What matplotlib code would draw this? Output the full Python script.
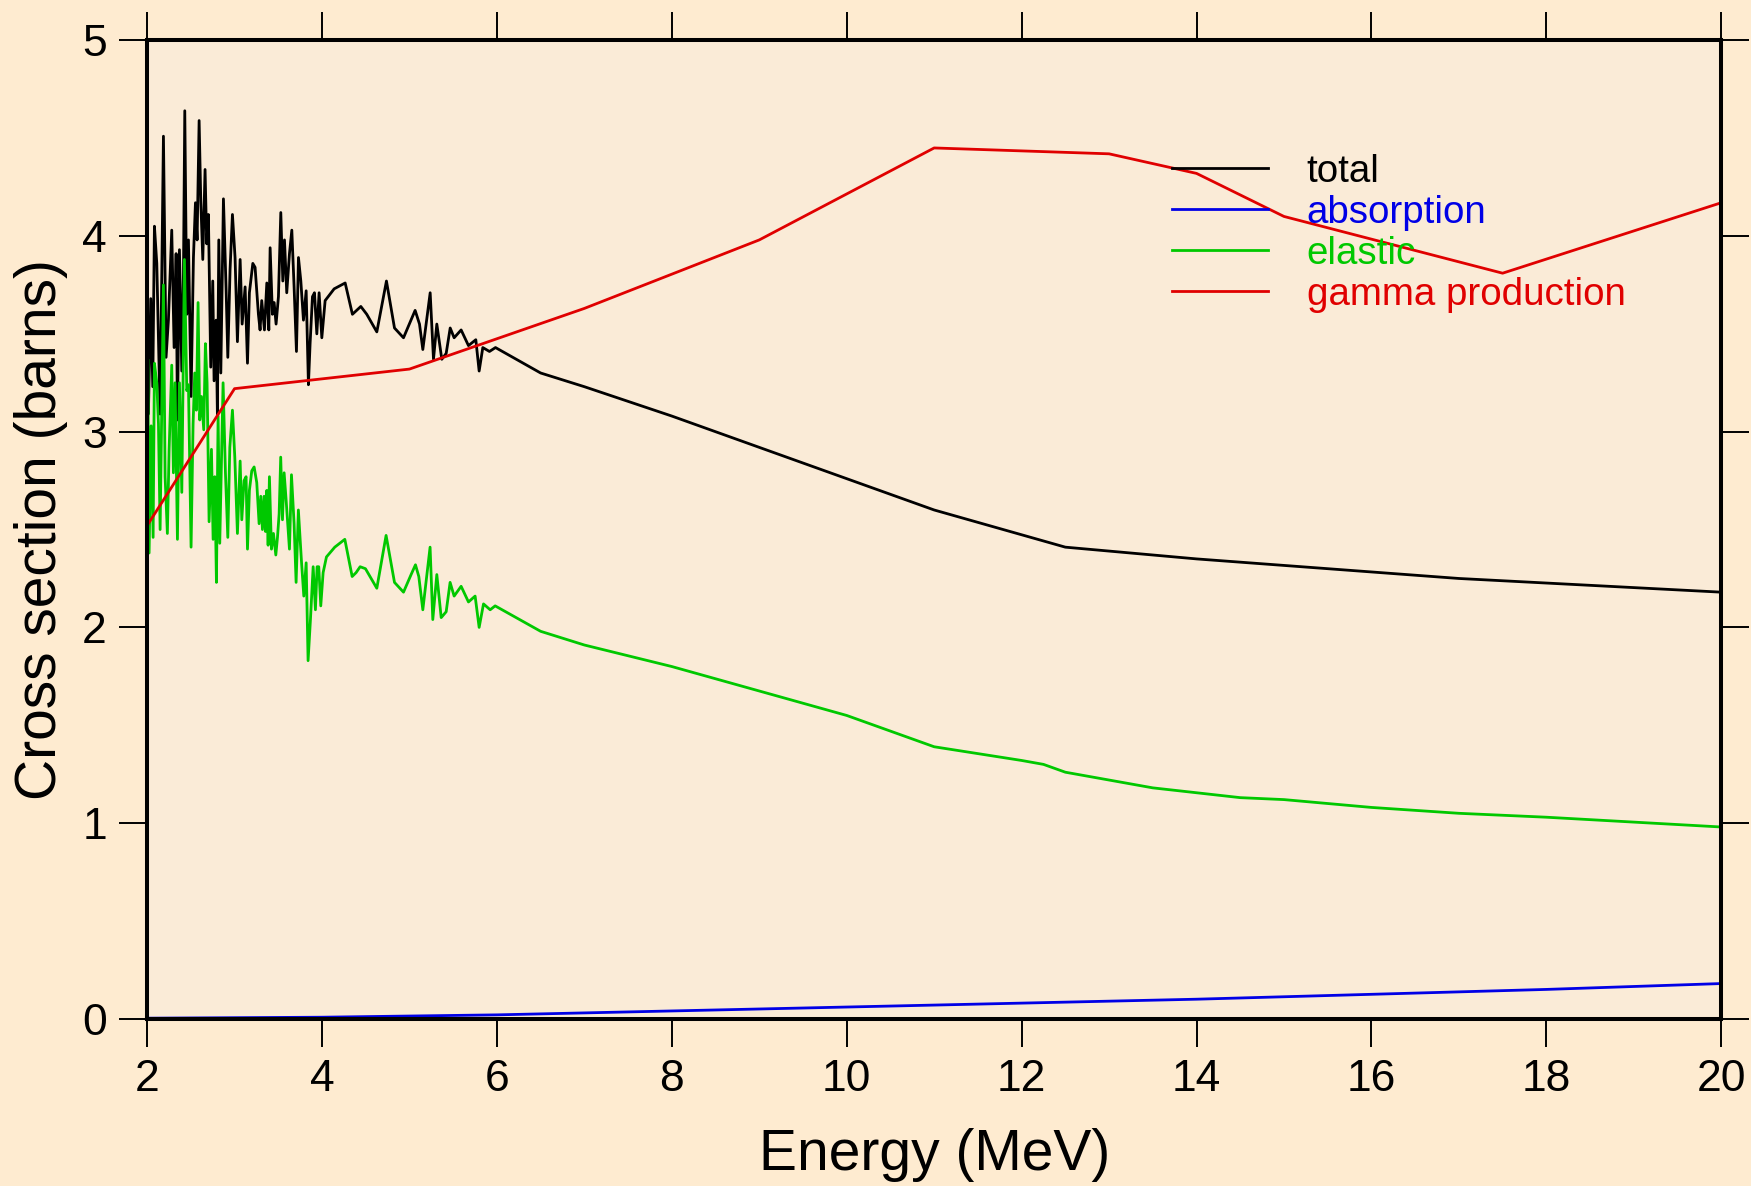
import numpy as np
import matplotlib
matplotlib.use("Agg")
import matplotlib.pyplot as plt

e_total = [2.0, 2.015, 2.042, 2.065, 2.084, 2.111, 2.149, 2.187, 2.217, 2.244, 2.282,
           2.309, 2.332, 2.347, 2.370, 2.397, 2.416, 2.431, 2.454, 2.473, 2.503,
           2.530, 2.553, 2.572, 2.595, 2.614, 2.637, 2.663, 2.682, 2.701, 2.728,
           2.751, 2.766, 2.789, 2.804, 2.820, 2.843, 2.873, 2.904, 2.923, 2.949,
           2.976, 3.006, 3.033, 3.064, 3.087, 3.121, 3.148, 3.170, 3.209, 3.235,
           3.273, 3.292, 3.311, 3.342, 3.369, 3.392, 3.407, 3.433, 3.453, 3.475,
           3.502, 3.529, 3.552, 3.571, 3.597, 3.628, 3.655, 3.681, 3.708, 3.731,
           3.758, 3.788, 3.819, 3.845, 3.864, 3.891, 3.914, 3.941, 3.967, 3.998,
           4.036, 4.139, 4.265, 4.348, 4.444, 4.512, 4.627, 4.737, 4.829, 4.932,
           5.065, 5.115, 5.153, 5.237, 5.275, 5.313, 5.370, 5.420, 5.466, 5.511,
           5.591, 5.675, 5.759, 5.797, 5.839, 5.915, 5.984,
           6.5, 7.0, 8.0, 11.0, 12.5, 14.0, 17.0, 20.0]
total = [3.45, 3.09, 3.68, 3.23, 4.05, 3.86, 3.09, 4.51, 3.38, 3.57, 4.03,
         3.43, 3.91, 3.06, 3.93, 3.31, 3.81, 4.64, 3.60, 3.98, 3.18,
         3.89, 4.17, 3.98, 4.59, 4.18, 3.88, 4.34, 3.96, 4.11, 3.33,
         3.77, 3.26, 3.57, 3.09, 3.98, 3.30, 4.19, 3.72, 3.38, 3.83,
         4.11, 3.89, 3.46, 3.88, 3.55, 3.74, 3.35, 3.71, 3.86, 3.84,
         3.60, 3.52, 3.67, 3.52, 3.76, 3.52, 3.94, 3.60, 3.66, 3.55,
         3.69, 4.12, 3.77, 3.98, 3.71, 3.91, 4.03, 3.74, 3.41, 3.89,
         3.77, 3.57, 3.72, 3.24, 3.45, 3.69, 3.71, 3.50, 3.71, 3.48,
         3.67, 3.73, 3.76, 3.60, 3.64, 3.60, 3.51, 3.77, 3.53, 3.48,
         3.62, 3.55, 3.42, 3.71, 3.37, 3.55, 3.37, 3.40, 3.53, 3.48,
         3.52, 3.44, 3.47, 3.31, 3.43, 3.41, 3.43,
         3.30, 3.23, 3.08, 2.60, 2.41, 2.35, 2.25, 2.18]

e_elastic = [2.0, 2.008, 2.023, 2.046, 2.069, 2.084, 2.111, 2.130, 2.149, 2.187, 2.206,
             2.232, 2.252, 2.282, 2.301, 2.320, 2.347, 2.370, 2.397, 2.427, 2.454,
             2.473, 2.503, 2.526, 2.545, 2.564, 2.583, 2.602, 2.622, 2.648, 2.667,
             2.686, 2.709, 2.736, 2.755, 2.774, 2.793, 2.812, 2.831, 2.869, 2.896,
             2.923, 2.946, 2.976, 3.003, 3.033, 3.064, 3.083, 3.109, 3.132, 3.148,
             3.170, 3.197, 3.224, 3.254, 3.281, 3.300, 3.319, 3.338, 3.354, 3.369,
             3.384, 3.399, 3.422, 3.445, 3.472, 3.491, 3.510, 3.528, 3.548, 3.567,
             3.590, 3.628, 3.651, 3.681, 3.704, 3.73, 3.765, 3.792, 3.819, 3.841,
             3.868, 3.899, 3.925, 3.944, 3.963, 3.986, 4.013, 4.051, 4.146, 4.261,
             4.345, 4.390, 4.436, 4.497, 4.627, 4.733, 4.829, 4.932, 5.019, 5.069,
             5.107, 5.153, 5.236, 5.267, 5.313, 5.363, 5.420, 5.465, 5.511, 5.591,
             5.675, 5.751, 5.797, 5.847, 5.923, 5.980,
             6.5, 7.0, 8.0, 10.0, 11.0, 12.0, 12.25, 12.5, 13.5, 14.5, 15.0,
             15.5, 16.0, 17.0, 18.0, 20.0]
elastic = [2.80, 3.37, 2.38, 3.03, 2.46, 3.35, 3.25, 3.04, 2.50, 3.75, 2.77,
           2.48, 2.91, 3.34, 2.79, 3.25, 2.45, 3.25, 2.69, 3.88, 3.21,
           3.24, 2.41, 3.04, 3.30, 3.11, 3.66, 3.06, 3.18, 3.01, 3.45,
           3.25, 2.54, 2.91, 2.45, 2.77, 2.23, 3.08, 2.43, 3.25, 2.79,
           2.46, 2.92, 3.11, 2.87, 2.48, 2.85, 2.55, 2.75, 2.77, 2.40,
           2.70, 2.80, 2.82, 2.74, 2.53, 2.67, 2.50, 2.67, 2.49, 2.70,
           2.42, 2.77, 2.40, 2.48, 2.37, 2.46, 2.58, 2.87, 2.55, 2.79,
           2.65, 2.40, 2.78, 2.53, 2.23, 2.60, 2.34, 2.16, 2.33, 1.83,
           2.04, 2.31, 2.09, 2.31, 2.31, 2.11, 2.28, 2.36, 2.41, 2.45,
           2.26, 2.28, 2.31, 2.30, 2.20, 2.47, 2.23, 2.18, 2.27, 2.32,
           2.26, 2.09, 2.41, 2.04, 2.27, 2.05, 2.08, 2.23, 2.16, 2.21,
           2.13, 2.16, 2.00, 2.12, 2.09, 2.11,
           1.98, 1.91, 1.80, 1.55, 1.39, 1.32, 1.30, 1.26, 1.18, 1.13, 1.12,
           1.10, 1.08, 1.05, 1.03, 0.98]

e_absorption = [2, 4, 6, 8, 10, 12, 14, 16, 18, 20]
absorption = [0.003, 0.008, 0.02, 0.04, 0.06, 0.08, 0.10, 0.125, 0.15, 0.18]

e_gamma = [2, 3, 5, 7, 9, 11, 13, 14, 15, 17.5, 20]
gamma = [2.52, 3.22, 3.32, 3.63, 3.98, 4.45, 4.42, 4.32, 4.10, 3.81, 4.17]

x_ticks = [2, 4, 6, 8, 10, 12, 14, 16, 18, 20]
y_ticks = [0, 1, 2, 3, 4, 5]

plt.rcParams['font.family'] = ['Liberation Sans', 'DejaVu Sans']

fig = plt.figure(figsize=(17.51, 11.86), dpi=100, facecolor='#feebd0')
ax = fig.add_axes([0.084, 0.141, 0.899, 0.825], facecolor='#faebd7')

lw = 2.0
ax.plot(e_total, total, color='black', lw=lw, label='total')
ax.plot(e_absorption, absorption, color='#0000e6', lw=lw, label='absorption')
ax.plot(e_elastic, elastic, color='#00c800', lw=lw, label='elastic')
ax.plot(e_gamma, gamma, color='#e00000', lw=lw, label='gamma production')

ax.set_xlim(2, 20)
ax.set_ylim(0, 5)
ax.set_xticks(x_ticks)
ax.set_yticks(y_ticks)
ax.tick_params(which='both', direction='out', length=20, width=1.4, labelsize=32,
               top=True, right=True, pad=9)
for s in ax.spines.values():
    s.set_linewidth(2.9)

ax.set_xlabel('Energy (MeV)', fontsize=41, labelpad=20)
ax.set_ylabel('Cross section (barns)', fontsize=41, labelpad=10)

leg = ax.legend(loc='upper left', bbox_to_anchor=(0.651, 0.884), frameon=False,
                fontsize=27.7, handlelength=2.5, handletextpad=1.0,
                labelspacing=0.13, borderpad=0, borderaxespad=0,
                labelcolor='linecolor')

fig.savefig('out.png', dpi=100, facecolor=fig.get_facecolor())
